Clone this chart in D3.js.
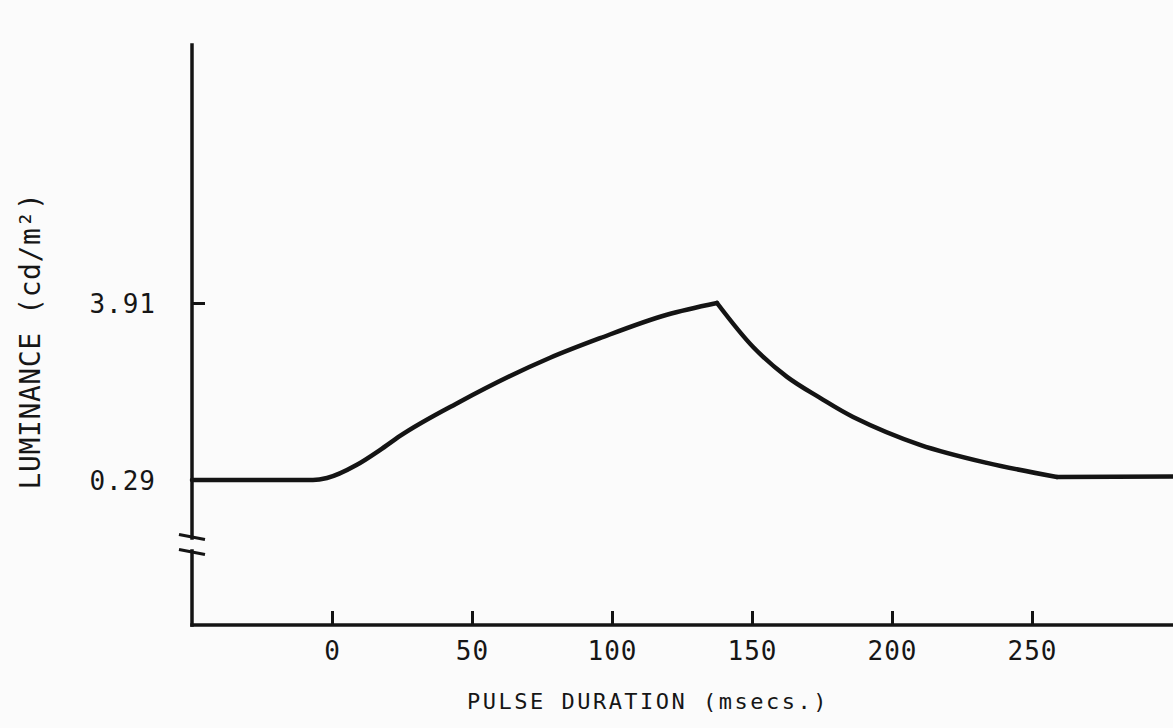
<!DOCTYPE html>
<html>
<head>
<meta charset="utf-8">
<script src="https://cdn.jsdelivr.net/npm/d3@7"></script>
<style>
  html, body { margin: 0; padding: 0; background: #fbfbfb; }
  svg { display: block; }
  text { font-family: "DejaVu Sans Mono", monospace; fill: #161616; }
</style>
</head>
<body>
<script>
// ---- data ----
const timeMs = [-50, -6.8, -1.8, 8.9, 17.1, 24.3, 45.7, 77.9, 95.7, 119.6, 137.5,
                150.4, 162.5, 174.3, 186.1, 210, 233.9, 258.9, 301];
const luminance = [0.29, 0.29, 0.33, 0.60, 0.90, 1.19, 1.89, 2.79, 3.19, 3.67, 3.91,
                   3.01, 2.40, 1.97, 1.58, 1.01, 0.64, 0.35, 0.36];
const xTickValues = [0, 50, 100, 150, 200, 250];
const yTickValues = [0.29, 3.91];
const yTickLabels = ["0.29", "3.91"];
const xTitle = "PULSE DURATION (msecs.)";
const yTitle = "LUMINANCE (cd/m\u00B2)";

// ---- layout ----
const W = 1173, H = 728;
const xMin = -50;
const axisBottomY = 625, axisTopY = 45;
const breakTop = 538, breakBottom = 551;
const ink = "#141414";

const svg = d3.select("body").append("svg").attr("width", W).attr("height", H);
svg.append("rect").attr("width", W).attr("height", H).attr("fill", "#fbfbfb");

const x = d3.scaleLinear().domain([0, 250]).range([332, 1032]);
const y = d3.scaleLinear().domain([0.29, 3.91]).range([480, 303]);
const x0 = x(xMin);

// axes lines
const axes = svg.append("g").attr("stroke", ink).attr("stroke-width", 3.5).attr("fill", "none")
  .attr("stroke-linecap", "square");
axes.append("line").attr("x1", x0).attr("x2", x0).attr("y1", axisTopY).attr("y2", breakTop);
axes.append("line").attr("x1", x0).attr("x2", x0).attr("y1", breakBottom).attr("y2", axisBottomY);
axes.append("line").attr("x1", x0).attr("x2", W).attr("y1", axisBottomY).attr("y2", axisBottomY);
// break marks
[breakTop - 1, breakBottom + 1].forEach(yy => {
  axes.append("line").attr("x1", x0 - 13).attr("y1", yy - 2.5)
    .attr("x2", x0 + 13).attr("y2", yy + 2.5).attr("stroke-width", 3).attr("stroke-linecap", "butt");
});

// x axis ticks
const xAxis = d3.axisBottom(x).tickValues(xTickValues).tickSize(-14).tickFormat(d3.format("d"));
const gx = svg.append("g").attr("transform", `translate(0,${axisBottomY})`).call(xAxis);
gx.select(".domain").remove();
gx.selectAll(".tick line").attr("stroke", ink).attr("stroke-width", 3);
gx.selectAll(".tick text").attr("y", 35).attr("dy", 0)
  .style("font-size", "26px").style("letter-spacing", "1px")
  .attr("font-family", null).attr("fill", ink);

// y axis ticks
const yAxis = d3.axisLeft(y).tickValues(yTickValues).tickSize(-13).tickPadding(36)
  .tickFormat((d, i) => yTickLabels[i]);
const gy = svg.append("g").attr("transform", `translate(${x0},0)`).call(yAxis);
gy.select(".domain").remove();
gy.selectAll(".tick line").attr("stroke", ink).attr("stroke-width", 3);
gy.selectAll(".tick text").attr("dy", "0.36em")
  .style("font-size", "26px").style("letter-spacing", "1px")
  .attr("font-family", null).attr("fill", ink);

// curve: rise, decay and tail drawn as smooth pieces joined at the sharp corners
const pts = timeMs.map((t, i) => [t, luminance[i]]);
const peak = d3.maxIndex(luminance);
const tailStart = timeMs.length - 2;
const mk = c => d3.line().x(d => x(d[0])).y(d => y(d[1])).curve(c);
const pieces = [
  [pts.slice(0, peak + 1), d3.curveMonotoneX],
  [pts.slice(peak, tailStart + 1), d3.curveCatmullRom.alpha(0.5)],
  [pts.slice(tailStart), d3.curveLinear]
];
pieces.forEach(([seg, c]) => {
  svg.append("path").datum(seg).attr("d", mk(c))
    .attr("fill", "none").attr("stroke", ink).attr("stroke-width", 4.5)
    .attr("stroke-linejoin", "round").attr("stroke-linecap", "round");
});

// titles
svg.append("text").attr("x", 648).attr("y", 709).attr("text-anchor", "middle")
  .style("font-size", "22px").style("letter-spacing", "2.5px").text(xTitle);
svg.append("text").attr("transform", "translate(40,341) rotate(-90)").attr("text-anchor", "middle")
  .style("font-size", "28px").style("letter-spacing", "0.6px").text(yTitle);
</script>
</body>
</html>
